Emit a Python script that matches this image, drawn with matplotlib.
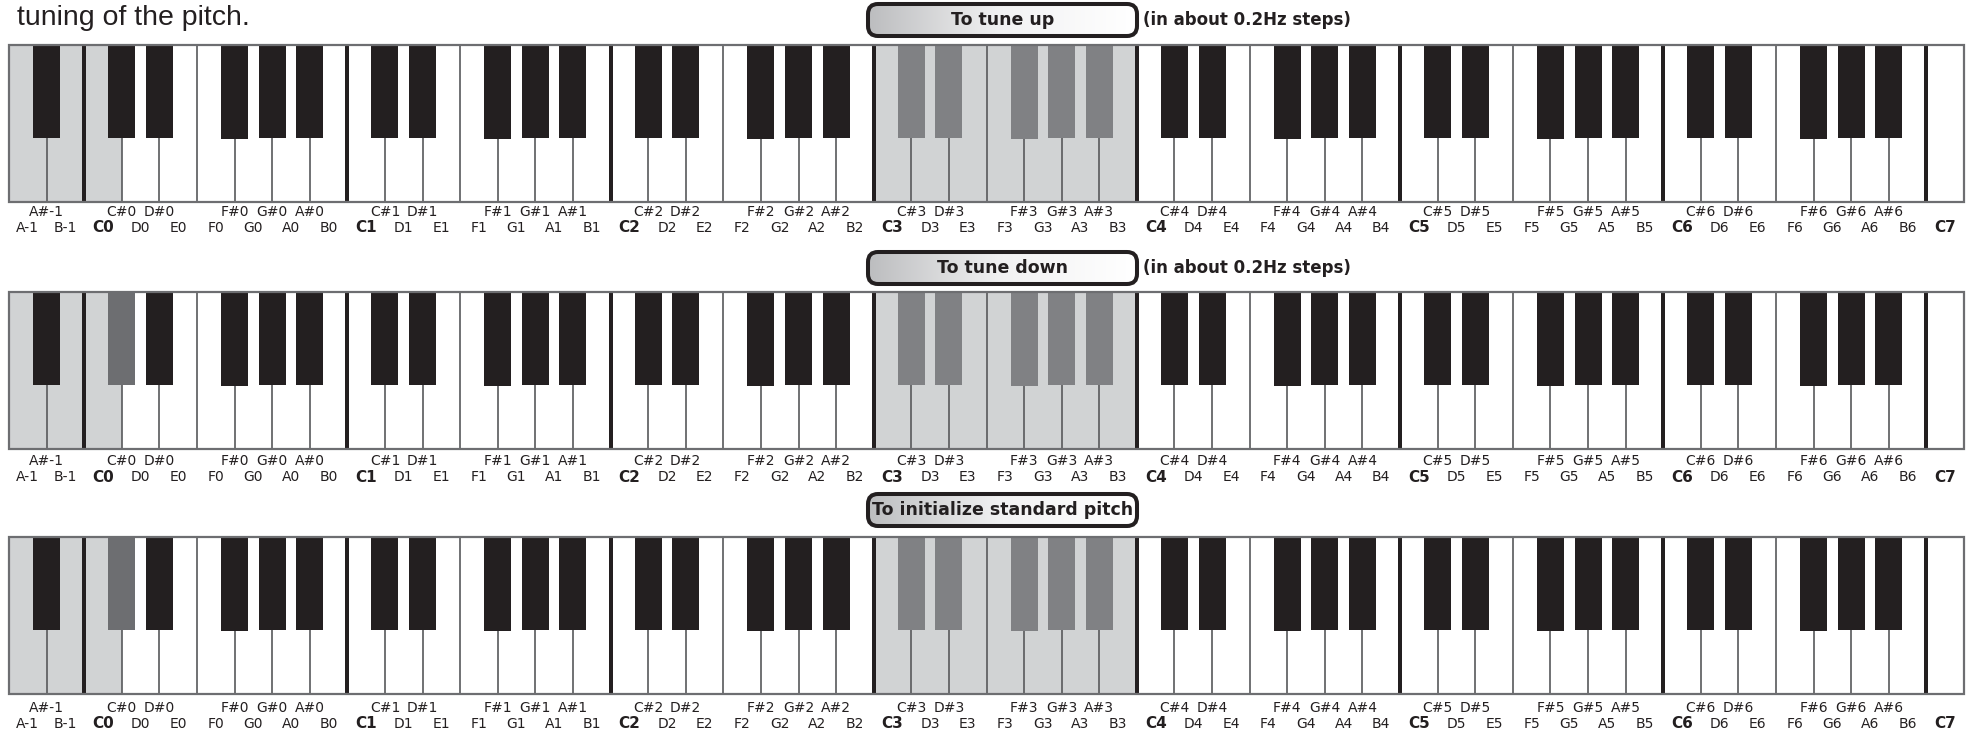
import matplotlib
matplotlib.use("Agg")
import matplotlib.pyplot as plt
from matplotlib.patches import Rectangle, FancyBboxPatch
from matplotlib.colors import LinearSegmentedColormap
import numpy as np

# ---------------- data ----------------
intro_text = "tuning of the pitch."
natural_names = ["C", "D", "E", "F", "G", "A", "B"]
sharp_names = ["C#", "D#", "F#", "G#", "A#"]
octaves = [0, 1, 2, 3, 4, 5, 6]
low_white = ["A-1", "B-1"]
low_black = ["A#-1"]
top_white = ["C7"]

white_keys = low_white + [f"{n}{o}" for o in octaves for n in natural_names] + top_white
black_keys = low_black + [f"{s}{o}" for o in octaves for s in sharp_names]

panel_titles = ["To tune up", "To tune down", "To initialize standard pitch"]
panel_notes = ["(in about 0.2Hz steps)", "(in about 0.2Hz steps)", ""]
shaded_white = [
    ["A-1", "B-1", "C0", "C3", "D3", "E3", "F3", "G3", "A3", "B3"],
    ["A-1", "B-1", "C0", "C3", "D3", "E3", "F3", "G3", "A3", "B3"],
    ["A-1", "B-1", "C0", "C3", "D3", "E3", "F3", "G3", "A3", "B3"],
]
gray_black = [
    ["C#3", "D#3", "F#3", "G#3", "A#3"],
    ["C#0", "C#3", "D#3", "F#3", "G#3", "A#3"],
    ["C#0", "C#3", "D#3", "F#3", "G#3", "A#3"],
]

# ---------------- layout / style ----------------
W, H = 1973, 732
x0, x1 = 9, 1964
kw = (x1 - x0) / len(white_keys)
panel_tops = [45, 292, 537]
key_h = 157
black_h = 93
sharp_label_y = [212, 461, 708]
natural_label_y = [228, 477, 724]
box_cy = [20, 268, 510]
box_x0, box_x1, box_h = 868, 1137, 32

INK = "#231f20"
SHADE = "#d1d3d4"
GRAY_KEY = "#808184"
GRAY_KEY_DARK = "#6d6e71"
LINE = "#58595b"

fig = plt.figure(figsize=(W / 100, H / 100), dpi=100)
ax = fig.add_axes([0, 0, 1, 1])
ax.set_xlim(0, W)
ax.set_ylim(H, 0)
ax.axis("off")

ax.text(17, 25, intro_text, fontsize=20.5, family="Liberation Sans",
        color=INK, va="baseline", ha="left")

white_idx = {n: i for i, n in enumerate(white_keys)}


def black_center(name):
    nat = name.replace("#", "")
    return x0 + (white_idx[nat] + 1) * kw


grad = np.linspace(0, 1, 256).reshape(1, -1)
gcmap = LinearSegmentedColormap.from_list("g", ["#bcbdbf", "#f2f2f3", "#ffffff"])

for p in range(3):
    top = panel_tops[p]
    bot = top + key_h
    # white keys
    for i, n in enumerate(white_keys):
        fc = SHADE if n in shaded_white[p] else "white"
        ax.add_patch(Rectangle((x0 + i * kw, top), kw, key_h, facecolor=fc,
                               edgecolor="none", zorder=1))
    # separators
    for i in range(1, len(white_keys)):
        xb = x0 + i * kw
        n = white_keys[i]
        if n.startswith("C"):
            ax.add_patch(Rectangle((xb - 2, top), 4, key_h, facecolor=INK,
                                   edgecolor="none", zorder=4))
        else:
            ax.plot([xb, xb], [top, bot], color=LINE, lw=1.2, zorder=2,
                    solid_capstyle="butt")
    # black keys
    for n in black_keys:
        cx = black_center(n)
        if n in gray_black[p]:
            nat = n.replace("#", "")
            i = white_idx[nat]
            both = (white_keys[i] in shaded_white[p]) and (white_keys[i + 1] in shaded_white[p])
            fc = GRAY_KEY if both else GRAY_KEY_DARK
        else:
            fc = INK
        bh = black_h + (1 if n.startswith("F#") else 0)
        ax.add_patch(Rectangle((cx - 13.5, top), 27, bh, facecolor=fc,
                               edgecolor="none", zorder=3))
    # outer border
    ax.add_patch(Rectangle((x0, top), x1 - x0, key_h, facecolor="none",
                           edgecolor=GRAY_KEY_DARK, lw=1.6, zorder=5))
    # labels
    for n in black_keys:
        ax.text(black_center(n), sharp_label_y[p], n, fontsize=10,
                family="DejaVu Sans", color=INK, ha="center", va="center")
    for i, n in enumerate(white_keys):
        cx = x0 + (i + 0.5) * kw
        if n.startswith("C"):
            ax.text(cx, natural_label_y[p], n, fontsize=11, family="DejaVu Sans",
                    fontweight="heavy", color=INK, ha="center", va="center")
        else:
            ax.text(cx, natural_label_y[p], n, fontsize=10,
                    family="DejaVu Sans", color=INK, ha="center", va="center")
    # title box
    by0 = box_cy[p] - box_h / 2
    box = FancyBboxPatch((box_x0, by0), box_x1 - box_x0, box_h,
                         boxstyle="round,pad=0,rounding_size=10",
                         facecolor="none", edgecolor=INK, lw=2.9, zorder=7)
    ax.add_patch(box)
    im = ax.imshow(grad, cmap=gcmap, aspect="auto",
                   extent=(box_x0, box_x1, by0 + box_h, by0), zorder=6,
                   interpolation="bilinear")
    clip = FancyBboxPatch((box_x0, by0), box_x1 - box_x0, box_h,
                          boxstyle="round,pad=0,rounding_size=10",
                          facecolor="none", edgecolor="none", transform=ax.transData)
    im.set_clip_path(clip)
    ax.text((box_x0 + box_x1) / 2, box_cy[p], panel_titles[p], fontsize=12.5,
            family="DejaVu Sans", fontweight="bold", color=INK,
            ha="center", va="center", zorder=8)
    if panel_notes[p]:
        ax.text(box_x1 + 6, box_cy[p], panel_notes[p], fontsize=12,
                family="DejaVu Sans", fontweight="bold", color=INK,
                ha="left", va="center", zorder=8)

ax.set_xlim(0, W)
ax.set_ylim(H, 0)
fig.savefig("out.png", dpi=100)
